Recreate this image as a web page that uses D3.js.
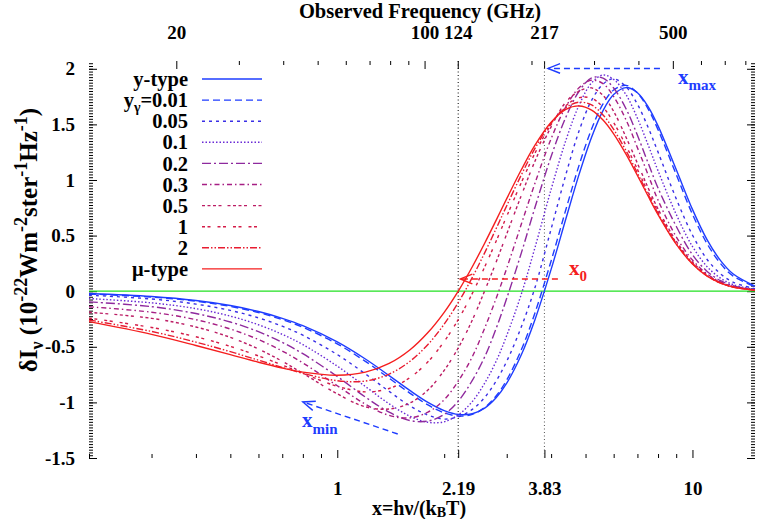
<!DOCTYPE html>
<html>
<head>
<meta charset="utf-8">
<title>Spectral distortions</title>
<script src="https://cdn.jsdelivr.net/npm/d3@7/dist/d3.min.js"></script>
<style>
  body { margin: 0; background: #ffffff; }
  #chart svg { display: block; }
  #chart text { font-family: "Liberation Serif", "Times New Roman", serif; font-weight: bold; fill: #000; }
</style>
</head>
<body>
<div id="chart"></div>
<script>
"use strict";

const xGrid = [0.2, 0.3, 0.4, 0.5, 0.6, 0.7, 0.8, 1.0, 1.2, 1.4, 1.6, 1.8, 2.0, 2.2, 2.4, 2.6, 2.8, 3.0,
               3.3, 3.6, 4.0, 4.4, 4.8, 5.2, 5.6, 6.0, 6.5, 7.0, 7.5, 8, 9, 10, 11, 12, 13, 15];

// delta I_nu in 1e-22 W m^-2 sr^-1 Hz^-1
const yType = [-0.021, -0.048, -0.084, -0.129, -0.183, -0.244, -0.310, -0.456, -0.610, -0.759, -0.892, -1.000,
               -1.074, -1.109, -1.102, -1.051, -0.958, -0.827, -0.570, -0.259, 0.196, 0.649, 1.055, 1.385,
               1.624, 1.769, 1.831, 1.784, 1.660, 1.487, 1.094, 0.736, 0.462, 0.275, 0.157, 0.046];
const yGamma001 = [-0.025, -0.053, -0.090, -0.137, -0.192, -0.256, -0.324, -0.474, -0.631, -0.783, -0.916, -1.023,
                   -1.094, -1.123, -1.107, -1.046, -0.942, -0.798, -0.525, -0.198, 0.272, 0.732, 1.137, 1.458,
                   1.684, 1.809, 1.851, 1.783, 1.640, 1.453, 1.050, 0.692, 0.426, 0.248, 0.138, 0.039];
const yGamma005 = [-0.036, -0.070, -0.116, -0.173, -0.240, -0.315, -0.396, -0.570, -0.744, -0.901, -1.031, -1.114,
                   -1.150, -1.128, -1.063, -0.956, -0.808, -0.630, -0.318, 0.029, 0.559, 1.047, 1.446, 1.716,
                   1.862, 1.910, 1.838, 1.681, 1.474, 1.251, 0.832, 0.505, 0.285, 0.156, 0.082, 0.022];
const yGamma01 = [-0.066, -0.105, -0.157, -0.224, -0.302, -0.388, -0.480, -0.674, -0.857, -1.013, -1.124, -1.179,
                  -1.174, -1.108, -0.992, -0.827, -0.631, -0.398, -0.023, 0.389, 0.915, 1.355, 1.676, 1.873,
                  1.944, 1.905, 1.767, 1.555, 1.316, 1.083, 0.691, 0.402, 0.220, 0.117, 0.060, 0.015];
const yGamma02 = [-0.096, -0.139, -0.201, -0.277, -0.364, -0.460, -0.562, -0.767, -0.952, -1.088, -1.163, -1.168,
                  -1.108, -0.982, -0.802, -0.591, -0.336, -0.064, 0.347, 0.750, 1.211, 1.564, 1.800, 1.918,
                  1.916, 1.827, 1.641, 1.402, 1.154, 0.928, 0.584, 0.328, 0.178, 0.094, 0.049, 0.012];
const yGamma03 = [-0.140, -0.189, -0.256, -0.340, -0.435, -0.538, -0.645, -0.850, -1.016, -1.117, -1.139, -1.088,
                  -0.976, -0.800, -0.589, -0.333, -0.065, 0.206, 0.606, 0.968, 1.371, 1.658, 1.831, 1.898,
                  1.867, 1.750, 1.541, 1.290, 1.048, 0.819, 0.490, 0.280, 0.155, 0.083, 0.043, 0.011];
const yGamma05 = [-0.190, -0.244, -0.322, -0.415, -0.520, -0.630, -0.738, -0.923, -1.040, -1.059, -1.006, -0.889,
                  -0.712, -0.500, -0.259, 0.003, 0.261, 0.515, 0.864, 1.167, 1.478, 1.700, 1.800, 1.828,
                  1.760, 1.617, 1.385, 1.150, 0.930, 0.740, 0.450, 0.262, 0.145, 0.077, 0.040, 0.010];
const yGamma1 = [-0.242, -0.326, -0.410, -0.496, -0.582, -0.664, -0.738, -0.855, -0.905, -0.875, -0.778, -0.635,
                 -0.452, -0.245, -0.020, 0.217, 0.449, 0.674, 0.979, 1.239, 1.499, 1.668, 1.740, 1.735,
                 1.655, 1.516, 1.309, 1.095, 0.893, 0.715, 0.437, 0.254, 0.140, 0.075, 0.039, 0.010];
const yGamma2 = [-0.259, -0.362, -0.458, -0.544, -0.620, -0.685, -0.738, -0.805, -0.808, -0.745, -0.632, -0.479,
                 -0.296, -0.092, 0.124, 0.345, 0.562, 0.769, 1.048, 1.282, 1.511, 1.650, 1.700, 1.675,
                 1.585, 1.455, 1.263, 1.062, 0.871, 0.699, 0.428, 0.248, 0.137, 0.073, 0.038, 0.009];
const muType = [-0.274, -0.388, -0.488, -0.571, -0.639, -0.691, -0.728, -0.756, -0.728, -0.650, -0.529, -0.372,
                -0.190, 0.010, 0.220, 0.431, 0.637, 0.832, 1.094, 1.311, 1.519, 1.635, 1.666, 1.629,
                1.539, 1.415, 1.232, 1.040, 0.856, 0.689, 0.423, 0.245, 0.135, 0.072, 0.037, 0.009];

const legendLabels = ["y-type", "y\u03b3=0.01", "0.05", "0.1", "0.2", "0.3", "0.5", "1", "2", "\u03bc-type"];

const xMajorTicks = [1, 2.19, 3.83, 10];
const xMinorTicks = [0.2, 0.3, 0.4, 0.5, 0.6, 0.7, 0.8, 0.9, 2, 3, 4, 5, 6, 7, 8, 9];
const freqMajorTicks = [20, 100, 124, 217, 500];
const freqMinorTicks = [30, 40, 50, 60, 70, 80, 90, 200, 300, 400, 600, 700, 800];
const yMajorTicks = [-1.5, -1, -0.5, 0, 0.5, 1, 1.5, 2];
const markerX = [2.19, 3.83];

const GHZ_PER_X = 56.78; // k_B T0 / h, T0 = 2.725 K

function init() {
    apply();
};
window.onload = init;


function apply() {

    const margin = {top: 61, right: 3, bottom: 61, left: 89},
    width = 758 - margin.left - margin.right,
    height = 519 - margin.top - margin.bottom;

    const svg = d3.select("#chart")
                    .append("svg")
                    .attr("width", width + margin.left + margin.right)
                    .attr("height", height + margin.top + margin.bottom)
                    .append("g")
                    .attr("transform", `translate(${margin.left}, ${margin.top})`);

    const x = d3.scaleLog().domain([0.2, 15]).range([0, width]);
    const xFreq = d3.scaleLog().domain([0.2 * GHZ_PER_X, 15 * GHZ_PER_X]).range([0, width]);
    const y = d3.scaleLinear().domain([-1.5, 2.07]).range([height, 0]);

    // minor y ticks every 0.025
    const yMinorTicks = d3.range(0, 143).map(i => -1.5 + i * 0.025);

    function styleAxis(g, size) {
        g.select(".domain").remove();
        g.selectAll(".tick line").attr("stroke", "#000").attr("stroke-width", 1);
        g.selectAll(".tick text")
            .attr("fill", "#000")
            .style("font-family", "'Liberation Serif', 'Times New Roman', serif")
            .style("font-weight", "bold")
            .style("font-size", size + "px");
    }

    // bottom axis
    svg.append("g")
        .attr("transform", `translate(0, ${height})`)
        .call(d3.axisBottom(x).tickValues(xMinorTicks).tickSize(-4).tickFormat(""))
        .call(g => styleAxis(g, 19));
    svg.append("g")
        .attr("transform", `translate(0, ${height})`)
        .call(d3.axisBottom(x).tickValues(xMajorTicks).tickSize(-8).tickPadding(24)
              .tickFormat(d => String(d)))
        .call(g => styleAxis(g, 19));

    // top axis, observed frequency
    svg.append("g")
        .call(d3.axisTop(xFreq).tickValues(freqMinorTicks).tickSize(-4).tickFormat(""))
        .call(g => styleAxis(g, 19));
    svg.append("g")
        .call(d3.axisTop(xFreq).tickValues(freqMajorTicks).tickSize(-8).tickPadding(22)
              .tickFormat(d3.format("d")))
        .call(g => styleAxis(g, 19));

    // left and right axes
    svg.append("g")
        .call(d3.axisLeft(y).tickValues(yMinorTicks).tickSize(-4).tickFormat(""))
        .call(g => styleAxis(g, 19));
    svg.append("g")
        .call(d3.axisLeft(y).tickValues(yMajorTicks).tickSize(-8).tickPadding(14)
              .tickFormat(d => String(d)))
        .call(g => styleAxis(g, 19));
    svg.append("g")
        .attr("transform", `translate(${width}, 0)`)
        .call(d3.axisRight(y).tickValues(yMinorTicks).tickSize(-4).tickFormat(""))
        .call(g => styleAxis(g, 19));
    svg.append("g")
        .attr("transform", `translate(${width}, 0)`)
        .call(d3.axisRight(y).tickValues(yMajorTicks).tickSize(-8).tickFormat(""))
        .call(g => styleAxis(g, 19));

    // zero line
    svg.append("line")
        .attr("x1", x(0.2)).attr("x2", x(15))
        .attr("y1", y(0)).attr("y2", y(0))
        .attr("stroke", "#22e022").attr("stroke-width", 1.3);

    // dotted markers at x = 2.19 and 3.83
    svg.selectAll(".marker")
        .data(markerX)
        .enter().append("line")
        .attr("class", "marker")
        .attr("x1", d => x(d)).attr("x2", d => x(d))
        .attr("y1", 0).attr("y2", height)
        .attr("stroke", (d, i) => i === 0 ? "#000" : "#555")
        .attr("stroke-width", 1)
        .attr("stroke-dasharray", "1,2.5");

    const series = [yType, yGamma001, yGamma005, yGamma01, yGamma02, yGamma03, yGamma05, yGamma1, yGamma2, muType];
    const colors = ["#1e3cff", "#1e3cff", "#3a2fe6", "#6a2bd6", "#8e2a9e", "#a61f84", "#bc1c64", "#d41c48", "#e81c30", "#f51e1e"];
    const dashes = [null, "7,4", "3,4", "1.5,2", "9,3,2,3", "5,3,1.5,3", "3,2.5,3,2.5,3,2.5,3,6", "3,2.5,3,7", "7,2,1.5,2,1.5,2", null];

    const line = d3.line()
        .x((d, i) => x(xGrid[i]))
        .y(d => y(d))
        .curve(d3.curveCatmullRom.alpha(0.5));

    svg.append("g")
        .selectAll("path")
        .data(series)
        .enter().append("path")
            .attr("d", d => line(d))
            .attr("fill", "none")
            .attr("stroke", (d, i) => colors[i])
            .attr("stroke-width", 1.4)
            .attr("stroke-dasharray", (d, i) => dashes[i]);

    // legend
    const legend = svg.append("g")
        .attr("transform", `translate(${188 - margin.left}, ${79 - margin.top})`);
    legendLabels.forEach(function(lab, i) {
        const row = legend.append("g").attr("transform", `translate(0, ${i * 21.1})`);
        const t = row.append("text")
            .attr("x", 0)
            .attr("dy", "0.35em")
            .attr("text-anchor", "end")
            .style("font-size", "20.5px");
        if (i === 1) {
            t.append("tspan").text("y");
            t.append("tspan").attr("dy", 5).style("font-size", "14px").text("\u03b3");
            t.append("tspan").attr("dy", -5).text("=0.01");
        } else {
            t.text(lab);
        }
        row.append("line")
            .attr("x1", 14).attr("x2", 74)
            .attr("y1", 0).attr("y2", 0)
            .attr("stroke", colors[i])
            .attr("stroke-width", 1.4)
            .attr("stroke-dasharray", dashes[i]);
    });

    // arrows pointing to x_max, x_0, x_min
    const arrows = [
        {from: [8.1, 2.003], to: [3.92, 2.003], color: "#1e3cff"},
        {from: [4.18, 0.11], to: [2.22, 0.11], color: "#f51e1e"},
        {from: [1.48, -1.284], to: [0.80, -0.996], color: "#1e3cff"}
    ];
    arrows.forEach(function(a) {
        const x1 = x(a.from[0]), y1 = y(a.from[1]), x2 = x(a.to[0]), y2 = y(a.to[1]);
        svg.append("line")
            .attr("x1", x1).attr("y1", y1).attr("x2", x2).attr("y2", y2)
            .attr("stroke", a.color).attr("stroke-width", 1.4)
            .attr("stroke-dasharray", "6,4");
        const ang = Math.atan2(y1 - y2, x1 - x2), len = 13, spread = 0.38;
        const head = [[x2 + len * Math.cos(ang + spread), y2 + len * Math.sin(ang + spread)],
                      [x2, y2],
                      [x2 + len * Math.cos(ang - spread), y2 + len * Math.sin(ang - spread)]];
        svg.append("path")
            .attr("d", d3.line()(head))
            .attr("fill", "none")
            .attr("stroke", a.color).attr("stroke-width", 1.4);
    });

    const marks = [
        {at: [9.10, 1.863], sub: "max", color: "#1e3cff", shift: 6},
        {at: [4.49, 0.146], sub: "0", color: "#f51e1e", shift: 6},
        {at: [0.796, -1.221], sub: "min", color: "#1e3cff", shift: 7}
    ];
    marks.forEach(function(m) {
        const t = svg.append("text")
            .attr("x", x(m.at[0])).attr("y", y(m.at[1]))
            .style("font-size", "21px")
            .style("fill", m.color);
        t.append("tspan").text("x");
        t.append("tspan").attr("dy", m.shift).style("font-size", "15px").text(m.sub);
    });

    // axis titles
    svg.append("text")
        .attr("x", 420 - margin.left).attr("y", 18 - margin.top)
        .attr("text-anchor", "middle")
        .style("font-size", "20.5px")
        .text("Observed Frequency (GHz)");

    const xl = svg.append("text")
        .attr("x", 419 - margin.left).attr("y", 515 - margin.top)
        .attr("text-anchor", "middle")
        .style("font-size", "20px");
    xl.append("tspan").text("x=h\u03bd/(k");
    xl.append("tspan").attr("dy", 2).style("font-size", "14px").text("B");
    xl.append("tspan").attr("dy", -2).text("T)");

    const yl = svg.append("text")
        .attr("transform", `translate(${37 - margin.left}, ${240 - margin.top}) rotate(-90)`)
        .attr("text-anchor", "middle")
        .style("font-size", "25px");
    yl.append("tspan").text("\u03b4I");
    yl.append("tspan").attr("dy", 6).style("font-size", "18px").text("\u03bd");
    yl.append("tspan").attr("dy", -6).text(" (10");
    yl.append("tspan").attr("dy", -10).style("font-size", "18px").text("-22");
    yl.append("tspan").attr("dy", 10).text("Wm");
    yl.append("tspan").attr("dy", -10).style("font-size", "18px").text("-2");
    yl.append("tspan").attr("dy", 10).text("ster");
    yl.append("tspan").attr("dy", -10).style("font-size", "18px").text("-1");
    yl.append("tspan").attr("dy", 10).text("Hz");
    yl.append("tspan").attr("dy", -10).style("font-size", "18px").text("-1");
    yl.append("tspan").attr("dy", 10).text(")");
}
</script>
</body>
</html>
